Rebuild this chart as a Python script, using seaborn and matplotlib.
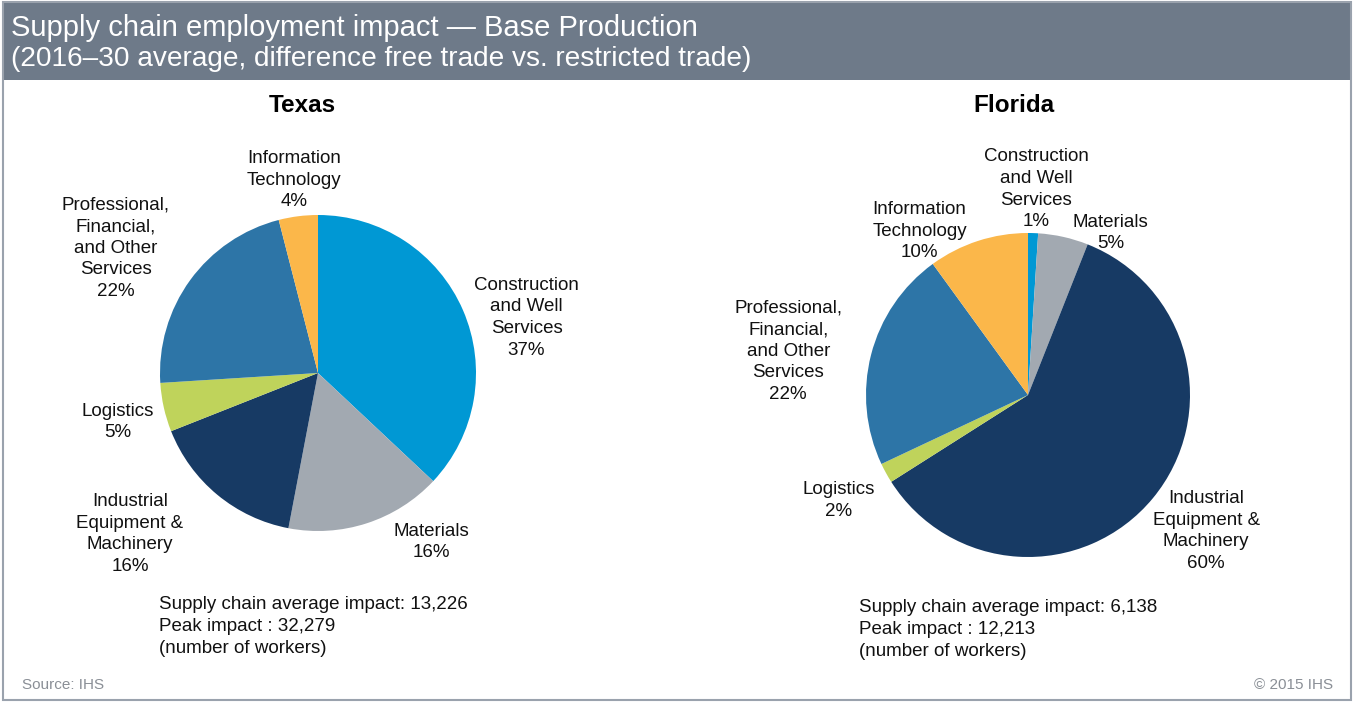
import matplotlib
matplotlib.use("Agg")
import matplotlib.pyplot as plt
import seaborn as sns
from matplotlib.patches import Rectangle

sns.set_theme(style="white")
plt.rcParams["font.family"] = ["Liberation Sans", "DejaVu Sans"]

# data
sectors = ["Construction\nand Well\nServices", "Materials", "Industrial\nEquipment &\nMachinery",
           "Logistics", "Professional,\nFinancial,\nand Other\nServices", "Information\nTechnology"]
texas_pct = [37, 16, 16, 5, 22, 4]
florida_pct = [1, 5, 60, 2, 22, 10]
texas_notes = ["Supply chain average impact: 13,226", "Peak impact : 32,279", "(number of workers)"]
florida_notes = ["Supply chain average impact: 6,138", "Peak impact : 12,213", "(number of workers)"]

colors = ["#0098d4", "#a2a9b1", "#173a64", "#bfd35b", "#2d75a7", "#fbb74a"]

# label positions in pie-radius units (layout only)
texas_label_pos = [(1.32, 0.35), (0.72, -1.07), (-1.19, -1.02), (-1.27, -0.31), (-1.28, 0.79), (-0.15, 1.22)]
florida_label_pos = [(0.05, 1.27), (0.51, 1.0), (1.10, -0.84), (-1.17, -0.65), (-1.48, 0.27), (-0.67, 1.01)]

W, H = 1354, 702
fig = plt.figure(figsize=(W / 100, H / 100), dpi=100)
fig.patch.set_facecolor("white")

# header band and frame
fig.patches.append(Rectangle((3 / W, 1 - 80 / H), (W - 6) / W, 77 / H, transform=fig.transFigure,
                             facecolor="#6e7a89", edgecolor="none", zorder=0))
fig.patches.append(Rectangle((3 / W, 2 / H), (W - 6) / W, (H - 4) / H, transform=fig.transFigure,
                             facecolor="none", edgecolor="#9aa2ad", linewidth=1.5, zorder=1))
fig.text(11 / W, 1 - 28 / H, "Supply chain employment impact \u2014 Base Production",
         color="white", fontsize=21, va="center", ha="left")
fig.text(11 / W, 1 - 59 / H, "(2016\u201330 average, difference free trade vs. restricted trade)",
         color="white", fontsize=20.2, va="center", ha="left")


def draw_pie(cx, cy, r, values, label_pos, title, title_xy, notes, notes_xy):
    ax = fig.add_axes([(cx - r) / W, (H - cy - r) / H, 2 * r / W, 2 * r / H])
    ax.pie(values, colors=colors, startangle=90, counterclock=False, radius=1,
           wedgeprops=dict(linewidth=0))
    ax.set_xlim(-1, 1)
    ax.set_ylim(-1, 1)
    ax.set_aspect("equal")
    ax.axis("off")
    for name, v, (lx, ly) in zip(sectors, values, label_pos):
        ax.text(lx, ly, f"{name}\n{v}%", ha="center", va="center", fontsize=13.5,
                linespacing=1.35, color="#111111", multialignment="center")
    fig.text(title_xy[0] / W, 1 - title_xy[1] / H, title, fontsize=17.5, fontweight="bold",
             ha="center", va="center", color="black")
    fig.text(notes_xy[0] / W, 1 - notes_xy[1] / H, "\n".join(notes), fontsize=13.5,
             ha="left", va="top", linespacing=1.38, color="#111111")


draw_pie(318, 373, 158, texas_pct, texas_label_pos, "Texas", (302, 105), texas_notes, (159, 596))
draw_pie(1028, 395, 162, florida_pct, florida_label_pos, "Florida", (1014, 105), florida_notes, (859, 599))

fig.text(22 / W, 1 - 685 / H, "Source: IHS", fontsize=11, color="#8a8f96", ha="left", va="center")
fig.text(1333 / W, 1 - 685 / H, "\u00a9 2015 IHS", fontsize=11, color="#8a8f96", ha="right", va="center")

fig.savefig("out.png", dpi=100, facecolor="white")
